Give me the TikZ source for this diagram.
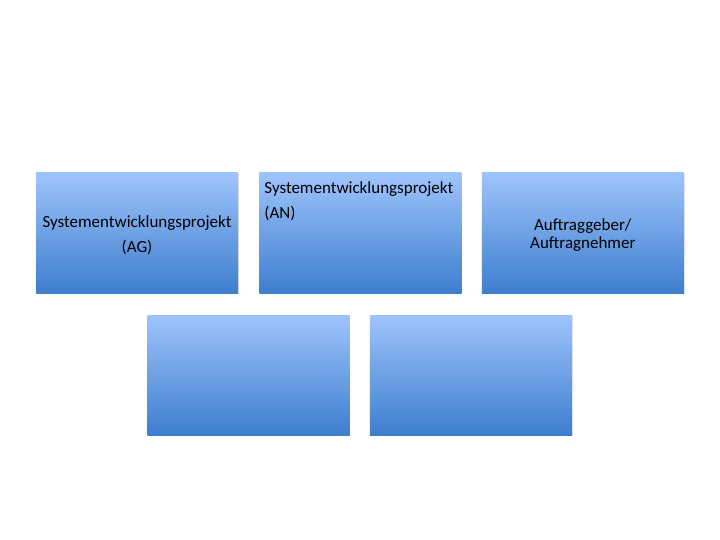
\documentclass[tikz,border=0pt]{standalone}
\usepackage{fontspec}
\setmainfont{Carlito}
\usetikzlibrary{positioning, shadows}
\definecolor{boxtop}{RGB}{158,196,252}
\definecolor{boxbottom}{RGB}{62,126,206}
\tikzstyle{block} = [rectangle, minimum width=202pt, minimum height=120pt, inner sep=0pt, top color=boxtop, bottom color=boxbottom, draw=none, drop shadow={opacity=0.25, shadow xshift=0.8pt, shadow yshift=-1.2pt}]
\tikzstyle{blocktext} = [font=\fontsize{17}{25}\selectfont, text=black, align=center]

\begin{document}
\begin{tikzpicture}[x=1pt, y=-1pt]
    \useasboundingbox (0,0) rectangle (720,540);
    \node (ag) [block] at (137,233) {};
    \node (an) [block, right=21pt of ag] {};
    \node (agan) [block, right=20pt of an] {};
    \node (leftlow) [block] at (248.5,375) {};
    \node (rightlow) [block, right=20pt of leftlow] {};
    \node (agtext) [blocktext] at ([yshift=-2pt]ag) {Systementwicklungsprojekt\\(AG)};
    \node (antext) [blocktext, align=left, anchor=north west, inner sep=0pt] at ([xshift=5pt, yshift=-9pt]an.north west) {Systementwicklungsprojekt\\(AN)};
    \node (agantext) [blocktext, font=\fontsize{17}{18}\selectfont] at ([yshift=-2pt]agan) {Auftraggeber/\\Auftragnehmer};
\end{tikzpicture}
\end{document}
